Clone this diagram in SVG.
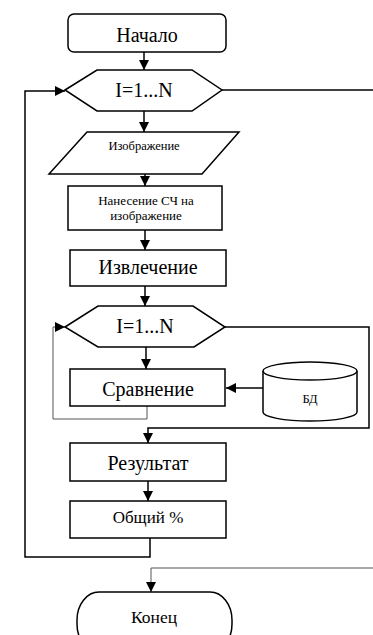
<svg xmlns="http://www.w3.org/2000/svg" width="373" height="635" viewBox="0 0 373 635">
<defs>
<marker id="ah" viewBox="0 0 10 10" refX="10" refY="5" markerWidth="10" markerHeight="10" markerUnits="userSpaceOnUse" orient="auto">
<path d="M0,0 L10,5 L0,10 Z" fill="#000"/>
</marker>
<style>
.shape{fill:#fff;stroke:#000;stroke-width:1.5}
.line{fill:none;stroke:#000;stroke-width:1.5}
.thin{fill:none;stroke:#555;stroke-width:1}
</style>
</defs>
<rect width="373" height="635" fill="#fff"/>
<g id="connectors">
<path class="line" d="M144,52 V70" marker-end="url(#ah)"/>
<path class="line" d="M222,90 H373"/>
<path class="line" d="M144,111 V132" marker-end="url(#ah)"/>
<path class="line" d="M145,174 V186" marker-end="url(#ah)"/>
<path class="line" d="M145,230 V250" marker-end="url(#ah)"/>
<path class="line" d="M145,286 V306" marker-end="url(#ah)"/>
<path class="line" d="M146,347 V369" marker-end="url(#ah)"/>
<path class="line" d="M263,388 H226" marker-end="url(#ah)"/>
<path class="thin" d="M147,406 V419 H53 V327 H65" marker-end="url(#ah)"/>
<path class="line" d="M225,327 H369 V428 H148 V443" marker-end="url(#ah)"/>
<path class="line" d="M148,481 V501" marker-end="url(#ah)"/>
<path class="line" d="M150,538 V557 H25 V91 H65" marker-end="url(#ah)"/>
<path class="thin" d="M373,568 H151 V592" marker-end="url(#ah)"/>
</g>
<g font-family="Liberation Serif" fill="#000" text-anchor="middle">
<g id="start">
<rect class="shape" x="68" y="14" width="158" height="38" rx="6"/>
<text font-family="Liberation Serif" font-size="20" x="147" y="42">Начало</text>
</g>
<g id="loop1">
<polygon class="shape" points="65,90 97,70 192,70 222,90 192,111 97,111"/>
<text font-family="Liberation Serif" font-size="20" x="144" y="97">I=1...N</text>
</g>
<g id="image">
<polygon class="shape" points="87,132 239,132 202,174 49,174"/>
<text font-family="Liberation Serif" font-size="12.5" x="144" y="150">Изображение</text>
</g>
<g id="apply">
<rect class="shape" x="68" y="186" width="154" height="44"/>
<text font-family="Liberation Serif" font-size="13" x="146" y="205">Нанесение СЧ на</text>
<text font-family="Liberation Serif" font-size="13" x="146" y="220">изображение</text>
</g>
<g id="extract">
<rect class="shape" x="70" y="250" width="156" height="36"/>
<text font-family="Liberation Serif" font-size="20" x="148" y="274">Извлечение</text>
</g>
<g id="loop2">
<polygon class="shape" points="65,327 98,306 193,306 225,327 194,347 98,347"/>
<text font-family="Liberation Serif" font-size="20" x="145" y="333">I=1...N</text>
</g>
<g id="compare">
<rect class="shape" x="70" y="369" width="155" height="37"/>
<text font-family="Liberation Serif" font-size="20" x="148" y="396">Сравнение</text>
</g>
<g id="db">
<path class="shape" d="M263,371 V412 A47,9 0 0 0 357,412 V371"/>
<ellipse class="shape" cx="310" cy="371" rx="47" ry="9"/>
<text font-family="Liberation Serif" font-size="12.5" x="310" y="403">БД</text>
</g>
<g id="result">
<rect class="shape" x="70" y="443" width="156" height="38"/>
<text font-family="Liberation Serif" font-size="20" x="148" y="470">Результат</text>
</g>
<g id="total">
<rect class="shape" x="70" y="501" width="156" height="37"/>
<text font-family="Liberation Serif" font-size="17" x="148" y="523">Общий %</text>
</g>
<g id="end">
<rect class="shape" x="77" y="592" width="155" height="60" rx="22" ry="28"/>
<text font-family="Liberation Serif" font-size="17.5" x="154" y="623">Конец</text>
</g>
</g>
</svg>
